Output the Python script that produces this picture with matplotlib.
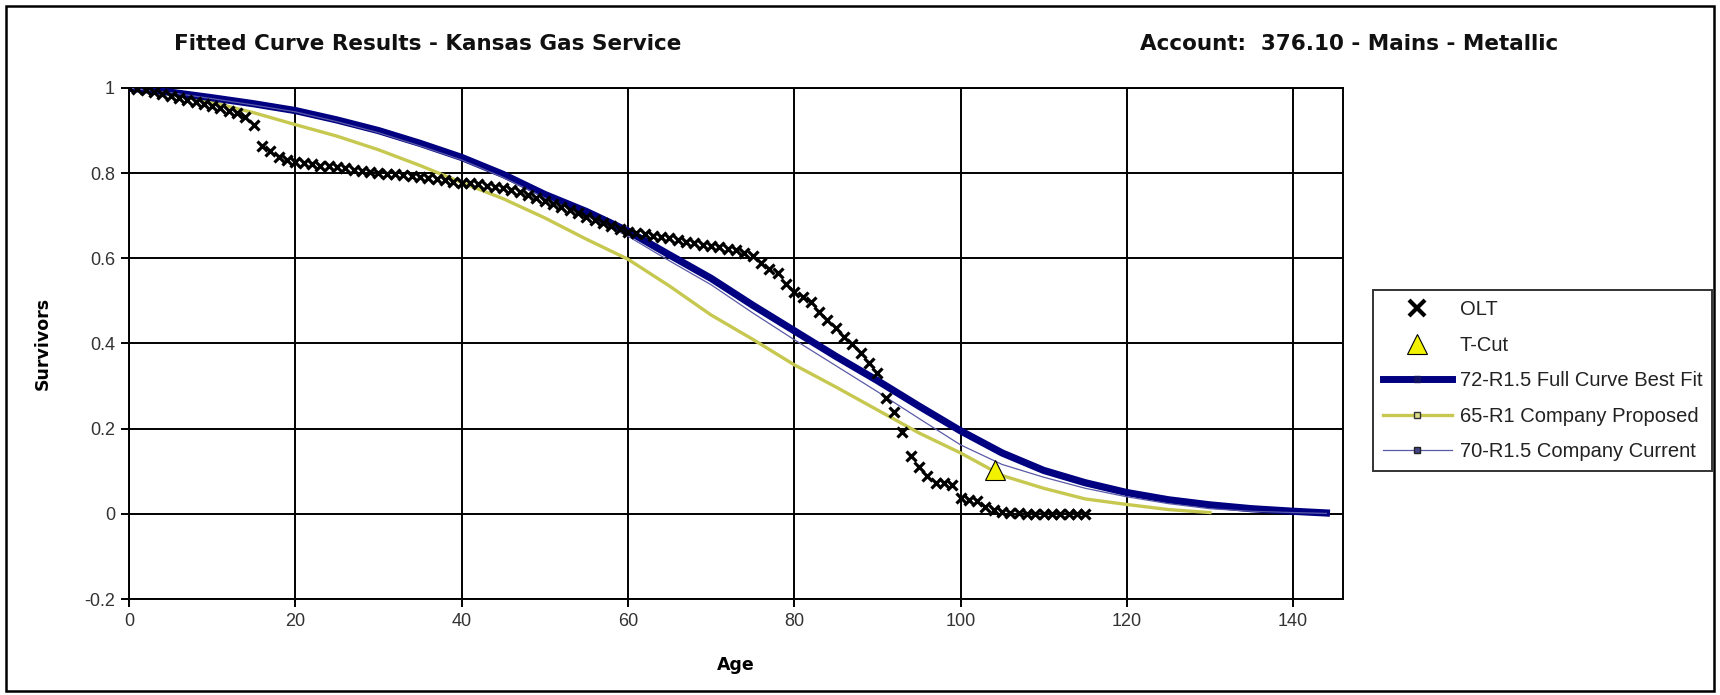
import matplotlib
matplotlib.use("Agg")
import matplotlib.pyplot as plt
from matplotlib.lines import Line2D
from matplotlib.patches import Rectangle
from matplotlib.ticker import FuncFormatter

# --- Data ---
olt_age = list(range(0, 116))
olt_surv = [
    1.000, 0.998, 0.995, 0.991, 0.987, 0.982, 0.977, 0.972, 0.967, 0.962,
    0.957, 0.952, 0.947, 0.942, 0.933, 0.914, 0.863, 0.851, 0.838, 0.830,
    0.826, 0.824, 0.821, 0.818, 0.816, 0.814, 0.811, 0.808, 0.806, 0.803,
    0.801, 0.799, 0.797, 0.795, 0.793, 0.791, 0.789, 0.786, 0.783, 0.780,
    0.778, 0.776, 0.774, 0.771, 0.768, 0.765, 0.760, 0.755, 0.749, 0.742,
    0.735, 0.728, 0.721, 0.714, 0.706, 0.698, 0.690, 0.682, 0.675, 0.668,
    0.663, 0.659, 0.656, 0.653, 0.650, 0.647, 0.643, 0.639, 0.636, 0.632,
    0.629, 0.626, 0.623, 0.620, 0.612, 0.605, 0.588, 0.575, 0.565, 0.540,
    0.522, 0.510, 0.498, 0.475, 0.455, 0.437, 0.415, 0.398, 0.378, 0.355,
    0.331, 0.272, 0.240, 0.193, 0.135, 0.111, 0.088, 0.072, 0.072, 0.068,
    0.037, 0.032, 0.029, 0.017, 0.010, 0.004, 0.002, 0.001, 0.000, 0.000,
    0.000, 0.000, 0.000, 0.000, 0.000, 0.000,
]

tcut_age = [104.2]
tcut_surv = [0.104]

curve_age = [0, 5, 10, 15, 20, 25, 30, 35, 40, 45, 50, 55, 60, 65, 70, 75,
             80, 85, 90, 95, 100, 105, 110, 115, 120, 125, 130, 135, 140, 144]
best_fit = [1.000, 0.990, 0.977, 0.963, 0.947, 0.925, 0.900, 0.870, 0.837,
            0.797, 0.750, 0.710, 0.664, 0.608, 0.553, 0.490, 0.430, 0.370,
            0.313, 0.253, 0.195, 0.143, 0.102, 0.073, 0.050, 0.033, 0.021,
            0.012, 0.006, 0.002]
proposed = [1.000, 0.985, 0.966, 0.942, 0.914, 0.887, 0.855, 0.818, 0.778,
            0.740, 0.695, 0.645, 0.598, 0.535, 0.467, 0.410, 0.350, 0.298,
            0.244, 0.190, 0.143, 0.090, 0.060, 0.035, 0.022, 0.010, 0.003,
            None, None, None]
current = [1.000, 0.989, 0.975, 0.960, 0.944, 0.921, 0.895, 0.864, 0.831,
           0.790, 0.742, 0.700, 0.652, 0.594, 0.538, 0.472, 0.409, 0.348,
           0.287, 0.224, 0.162, 0.116, 0.086, 0.060, 0.040, 0.024, 0.012,
           0.006, 0.003, 0.001]

x_ticks = [0, 20, 40, 60, 80, 100, 120, 140]
y_ticks = [-0.2, 0, 0.2, 0.4, 0.6, 0.8, 1.0]

NAVY = "#000080"
YELLOW = "#C6C850"
THIN = "#5A5AA8"

plt.rcParams["font.family"] = ["Liberation Sans", "DejaVu Sans"]

fig = plt.figure(figsize=(17.2, 6.95), dpi=100)
ax = fig.add_axes([129 / 1720, 1 - 599 / 695, (1343 - 129) / 1720, (599 - 88) / 695])

prop_age = [a for a, v in zip(curve_age, proposed) if v is not None]
prop_val = [v for v in proposed if v is not None]

ax.plot(prop_age, prop_val, color=YELLOW, lw=2.4, zorder=3)
ax.plot(curve_age, best_fit, color=NAVY, lw=5.2, zorder=4)
ax.plot(curve_age, current, color=THIN, lw=0.9, zorder=5)
ax.plot(olt_age, olt_surv, ls="none", marker="x", color="black",
        markersize=7.5, mew=2.3, zorder=6)
ax.plot(tcut_age, tcut_surv, ls="none", marker="^", markerfacecolor="#F2F200",
        markeredgecolor="black", markersize=15, mew=0.8, zorder=7)

ax.set_xlim(0, 146)
ax.set_ylim(-0.2, 1.0)
ax.set_xticks(x_ticks)
ax.set_yticks(y_ticks)
ax.yaxis.set_major_formatter(FuncFormatter(lambda v, p: f"{v:g}"))
ax.grid(True, color="black", lw=1.4)
ax.set_axisbelow(True)
for s in ax.spines.values():
    s.set_linewidth(1.4)
    s.set_color("black")
ax.tick_params(direction="out", length=6, width=1.4, labelsize=13,
               labelcolor="#333333", pad=4)

# titles and axis labels
fig.text(428 / 1720, 1 - 44 / 695, "Fitted Curve Results - Kansas Gas Service",
         ha="center", va="center", fontsize=15.5, fontweight="bold",
         family="DejaVu Sans", color="#111111")
fig.text(1349 / 1720, 1 - 44 / 695, "Account:  376.10 - Mains - Metallic",
         ha="center", va="center", fontsize=15.5, fontweight="bold",
         family="DejaVu Sans", color="#111111")
fig.text(43 / 1720, 1 - 343 / 695, "Survivors", rotation=90, ha="center",
         va="center", fontsize=12.5, fontweight="bold", family="DejaVu Sans")
fig.text(736 / 1720, 1 - 665 / 695, "Age", ha="center", va="center",
         fontsize=12.5, fontweight="bold", family="DejaVu Sans")

# legend with proxy handles
handles = [
    Line2D([], [], ls="none", marker="x", color="black", markersize=11, mew=3),
    Line2D([], [], ls="none", marker="^", markerfacecolor="#F2F200",
           markeredgecolor="black", markersize=15, mew=0.8),
    Line2D([], [], color=NAVY, lw=5, marker="s", markersize=4,
           markerfacecolor="#111166", markeredgecolor="#111166"),
    Line2D([], [], color=YELLOW, lw=2.4, marker="s", markersize=4.5,
           markerfacecolor="#DDDD88", markeredgecolor="#333333"),
    Line2D([], [], color=THIN, lw=0.9, marker="s", markersize=4.5,
           markerfacecolor="#444488", markeredgecolor="#222222"),
]
labels = ["OLT", "T-Cut", "72-R1.5 Full Curve Best Fit",
          "65-R1 Company Proposed", "70-R1.5 Company Current"]
leg = fig.legend(handles, labels, loc="upper left",
                 bbox_to_anchor=(1373 / 1720, 1 - 290 / 695),
                 bbox_transform=fig.transFigure, fontsize=14.5,
                 frameon=True, fancybox=False, handlelength=3.4,
                 handletextpad=0.4, labelspacing=0.82, borderpad=0.5,
                 borderaxespad=0)
leg.get_frame().set_edgecolor("black")
leg.get_frame().set_linewidth(1.4)
for t in leg.get_texts():
    t.set_color("#222222")

# outer frame round the whole picture
fig.patches.append(Rectangle((6 / 1720, 4 / 695), 1708 / 1720, 685 / 695,
                             transform=fig.transFigure, fill=False,
                             edgecolor="black", lw=1.8))

fig.savefig("out.png", dpi=100)
